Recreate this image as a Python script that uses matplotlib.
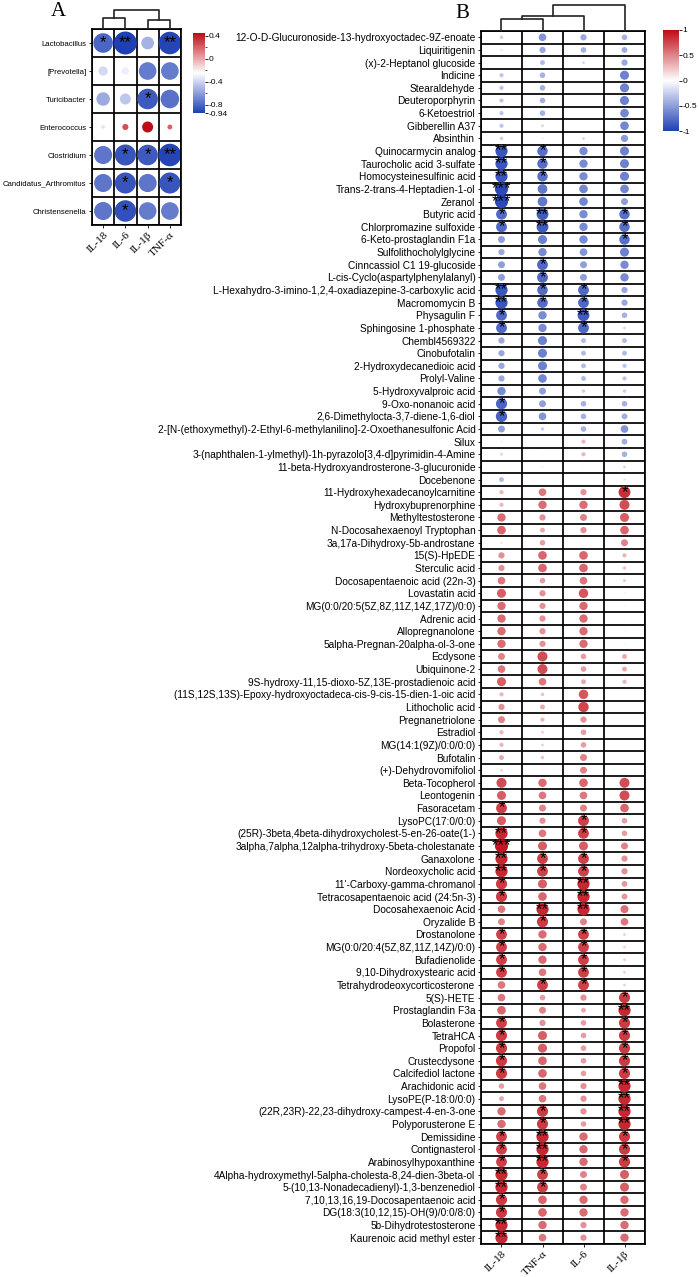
import matplotlib
matplotlib.use("Agg")
import matplotlib.pyplot as plt
import numpy as np
from matplotlib.colors import LinearSegmentedColormap, Normalize
from matplotlib.cm import ScalarMappable

W, H, DPI = 699, 1277, 100

# ---- panel A: gut genera vs cytokines ----
genera = ["Lactobacillus", "[Prevotella]", "Turicibacter", "Enterococcus",
          "Clostridium", "Candidatus_Arthromitus", "Christensenella"]
cyto_a = ["IL-18", "IL-6", "IL-1β", "TNF-α"]
r_a = [
    [-0.80, -0.94, -0.52, -0.92],
    [-0.38, -0.30, -0.72, -0.72],
    [-0.55, -0.45, -0.84, -0.76],
    [-0.15, 0.25, 0.45, 0.20],
    [-0.74, -0.86, -0.84, -0.92],
    [-0.74, -0.86, -0.74, -0.86],
    [-0.74, -0.88, -0.72, -0.72],
]
sig_a = [
    ["*", "**", "", "**"],
    ["", "", "", ""],
    ["", "", "*", ""],
    ["", "", "", ""],
    ["", "*", "*", "**"],
    ["", "*", "", "*"],
    ["", "*", "", ""],
]
# merges (left, right, height) for the column dendrogram
tree_a = [(0, 1, 0.57), (2, 3, 0.45), (4, 5, 1.0)]

# ---- panel B: metabolites vs cytokines ----
cyto_b = ["IL-18", "TNF-α", "IL-6", "IL-1β"]
metabolites = [
    "12-O-D-Glucuronoside-13-hydroxyoctadec-9Z-enoate", "Liquiritigenin",
    "(x)-2-Heptanol glucoside", "Indicine", "Stearaldehyde", "Deuteroporphyrin",
    "6-Ketoestriol", "Gibberellin A37", "Absinthin", "Quinocarmycin analog",
    "Taurocholic acid 3-sulfate", "Homocysteinesulfinic acid",
    "Trans-2-trans-4-Heptadien-1-ol", "Zeranol", "Butyric acid",
    "Chlorpromazine sulfoxide", "6-Keto-prostaglandin F1a", "Sulfolithocholylglycine",
    "Cinncassiol C1 19-glucoside", "L-cis-Cyclo(aspartylphenylalanyl)",
    "L-Hexahydro-3-imino-1,2,4-oxadiazepine-3-carboxylic acid", "Macromomycin B",
    "Physagulin F", "Sphingosine 1-phosphate", "Chembl4569322", "Cinobufotalin",
    "2-Hydroxydecanedioic acid", "Prolyl-Valine", "5-Hydroxyvalproic acid",
    "9-Oxo-nonanoic acid", "2,6-Dimethylocta-3,7-diene-1,6-diol",
    "2-[N-(ethoxymethyl)-2-Ethyl-6-methylanilino]-2-Oxoethanesulfonic Acid", "Silux",
    "3-(naphthalen-1-ylmethyl)-1h-pyrazolo[3,4-d]pyrimidin-4-Amine",
    "11-beta-Hydroxyandrosterone-3-glucuronide", "Docebenone",
    "11-Hydroxyhexadecanoylcarnitine", "Hydroxybuprenorphine", "Methyltestosterone",
    "N-Docosahexaenoyl Tryptophan", "3a,17a-Dihydroxy-5b-androstane", "15(S)-HpEDE",
    "Sterculic acid", "Docosapentaenoic acid (22n-3)", "Lovastatin acid",
    "MG(0:0/20:5(5Z,8Z,11Z,14Z,17Z)/0:0)", "Adrenic acid", "Allopregnanolone",
    "5alpha-Pregnan-20alpha-ol-3-one", "Ecdysone", "Ubiquinone-2",
    "9S-hydroxy-11,15-dioxo-5Z,13E-prostadienoic acid",
    "(11S,12S,13S)-Epoxy-hydroxyoctadeca-cis-9-cis-15-dien-1-oic acid",
    "Lithocholic acid", "Pregnanetriolone", "Estradiol", "MG(14:1(9Z)/0:0/0:0)",
    "Bufotalin", "(+)-Dehydrovomifoliol", "Beta-Tocopherol", "Leontogenin",
    "Fasoracetam", "LysoPC(17:0/0:0)",
    "(25R)-3beta,4beta-dihydroxycholest-5-en-26-oate(1-)",
    "3alpha,7alpha,12alpha-trihydroxy-5beta-cholestanate", "Ganaxolone",
    "Nordeoxycholic acid", "11'-Carboxy-gamma-chromanol",
    "Tetracosapentaenoic acid (24:5n-3)", "Docosahexaenoic Acid", "Oryzalide B",
    "Drostanolone", "MG(0:0/20:4(5Z,8Z,11Z,14Z)/0:0)", "Bufadienolide",
    "9,10-Dihydroxystearic acid", "Tetrahydrodeoxycorticosterone", "5(S)-HETE",
    "Prostaglandin F3a", "Bolasterone", "TetraHCA", "Propofol", "Crustecdysone",
    "Calcifediol lactone", "Arachidonic acid", "LysoPE(P-18:0/0:0)",
    "(22R,23R)-22,23-dihydroxy-campest-4-en-3-one", "Polyporusterone E",
    "Demissidine", "Contignasterol", "Arabinosylhypoxanthine",
    "4Alpha-hydroxymethyl-5alpha-cholesta-8,24-dien-3beta-ol",
    "5-(10,13-Nonadecadienyl)-1,3-benzenediol", "7,10,13,16,19-Docosapentaenoic acid",
    "DG(18:3(10,12,15)-OH(9)/0:0/8:0)", "5b-Dihydrotestosterone",
    "Kaurenoic acid methyl ester",
]
r_b = [
    [-0.25, -0.55, -0.45, -0.40], [-0.15, -0.45, -0.40, -0.42],
    [0.05, -0.35, -0.20, -0.45], [-0.30, -0.40, -0.03, -0.65],
    [-0.30, -0.40, -0.02, -0.65], [-0.30, -0.40, -0.02, -0.65],
    [-0.30, -0.40, -0.02, -0.62], [-0.30, -0.20, -0.02, -0.62],
    [-0.25, -0.12, -0.20, -0.52], [-0.88, -0.75, -0.60, -0.65],
    [-0.88, -0.75, -0.60, -0.65], [-0.88, -0.75, -0.60, -0.65],
    [-0.95, -0.70, -0.62, -0.62], [-0.95, -0.70, -0.62, -0.50],
    [-0.78, -0.85, -0.60, -0.75], [-0.78, -0.85, -0.60, -0.75],
    [-0.50, -0.65, -0.60, -0.75], [-0.45, -0.60, -0.55, -0.65],
    [-0.50, -0.78, -0.50, -0.60], [-0.50, -0.78, -0.50, -0.60],
    [-0.88, -0.76, -0.78, -0.45], [-0.88, -0.76, -0.78, -0.45],
    [-0.78, -0.60, -0.85, -0.40], [-0.78, -0.60, -0.78, -0.20],
    [-0.45, -0.65, -0.35, -0.35], [-0.45, -0.65, -0.35, -0.35],
    [-0.45, -0.65, -0.35, -0.30], [-0.45, -0.62, -0.35, -0.30],
    [-0.60, -0.50, -0.25, -0.25], [-0.80, -0.50, -0.40, -0.40],
    [-0.82, -0.55, -0.40, -0.42], [-0.50, -0.25, -0.40, -0.55],
    [-0.12, -0.02, 0.30, -0.42], [0.20, 0.08, 0.30, -0.40],
    [0.05, 0.10, -0.08, -0.20], [-0.35, 0.00, 0.00, -0.15],
    [0.30, 0.55, 0.45, 0.85], [0.30, 0.60, 0.60, 0.72],
    [0.60, 0.45, 0.50, 0.65], [0.62, 0.35, 0.45, 0.62],
    [0.15, 0.40, 0.02, 0.50], [0.45, 0.62, 0.62, 0.30],
    [0.45, 0.62, 0.62, 0.25], [0.55, 0.40, 0.55, 0.22],
    [0.65, 0.45, 0.68, 0.10], [0.60, 0.45, 0.60, 0.08],
    [0.60, 0.45, 0.60, 0.08], [0.60, 0.45, 0.60, 0.08],
    [0.60, 0.45, 0.60, 0.08], [0.50, 0.72, 0.40, 0.35],
    [0.55, 0.72, 0.40, 0.35], [0.65, 0.55, 0.35, 0.30],
    [0.30, 0.25, 0.68, 0.05], [0.45, 0.35, 0.75, 0.00],
    [0.50, 0.30, 0.45, 0.05], [0.30, 0.20, 0.40, 0.00],
    [0.30, 0.20, 0.40, 0.00], [0.35, 0.25, 0.50, 0.03],
    [0.20, 0.08, 0.50, 0.03], [0.72, 0.60, 0.62, 0.72],
    [0.65, 0.55, 0.55, 0.72], [0.78, 0.50, 0.50, 0.62],
    [0.65, 0.45, 0.78, 0.40], [0.88, 0.55, 0.78, 0.40],
    [0.95, 0.65, 0.65, 0.50], [0.88, 0.78, 0.78, 0.45],
    [0.88, 0.78, 0.78, 0.45], [0.80, 0.65, 0.88, 0.42],
    [0.80, 0.62, 0.88, 0.42], [0.55, 0.88, 0.88, 0.58],
    [0.50, 0.80, 0.50, 0.55], [0.78, 0.60, 0.78, 0.20],
    [0.78, 0.60, 0.78, 0.20], [0.78, 0.60, 0.78, 0.20],
    [0.78, 0.55, 0.78, 0.20], [0.55, 0.78, 0.78, 0.20],
    [0.55, 0.40, 0.45, 0.80], [0.62, 0.50, 0.35, 0.88],
    [0.78, 0.45, 0.40, 0.80], [0.80, 0.65, 0.40, 0.80],
    [0.80, 0.65, 0.40, 0.80], [0.80, 0.62, 0.40, 0.80],
    [0.80, 0.62, 0.40, 0.80], [0.40, 0.55, 0.45, 0.88],
    [0.35, 0.55, 0.45, 0.88], [0.60, 0.80, 0.45, 0.88],
    [0.60, 0.80, 0.40, 0.88], [0.78, 0.88, 0.60, 0.80],
    [0.78, 0.88, 0.60, 0.80], [0.78, 0.88, 0.60, 0.80],
    [0.88, 0.78, 0.50, 0.65], [0.88, 0.78, 0.50, 0.65],
    [0.80, 0.62, 0.60, 0.60], [0.80, 0.62, 0.60, 0.60],
    [0.88, 0.60, 0.45, 0.60], [0.88, 0.55, 0.45, 0.60],
]
sig_b = [
    ["", "", "", ""], ["", "", "", ""], ["", "", "", ""], ["", "", "", ""],
    ["", "", "", ""], ["", "", "", ""], ["", "", "", ""], ["", "", "", ""],
    ["", "", "", ""], ["**", "*", "", ""], ["**", "*", "", ""], ["**", "*", "", ""],
    ["***", "", "", ""], ["***", "", "", ""], ["*", "**", "", "*"], ["*", "**", "", "*"],
    ["", "", "", "*"], ["", "", "", ""], ["", "*", "", ""], ["", "*", "", ""],
    ["**", "*", "*", ""], ["**", "*", "*", ""], ["*", "", "**", ""], ["*", "", "*", ""],
    ["", "", "", ""], ["", "", "", ""], ["", "", "", ""], ["", "", "", ""],
    ["", "", "", ""], ["*", "", "", ""], ["*", "", "", ""], ["", "", "", ""],
    ["", "", "", ""], ["", "", "", ""], ["", "", "", ""], ["", "", "", ""],
    ["", "", "", "*"], ["", "", "", ""], ["", "", "", ""], ["", "", "", ""],
    ["", "", "", ""], ["", "", "", ""], ["", "", "", ""], ["", "", "", ""],
    ["", "", "", ""], ["", "", "", ""], ["", "", "", ""], ["", "", "", ""],
    ["", "", "", ""], ["", "", "", ""], ["", "", "", ""], ["", "", "", ""],
    ["", "", "", ""], ["", "", "", ""], ["", "", "", ""], ["", "", "", ""],
    ["", "", "", ""], ["", "", "", ""], ["", "", "", ""], ["", "", "", ""],
    ["", "", "", ""], ["*", "", "", ""], ["", "", "*", ""], ["**", "", "*", ""],
    ["***", "", "", ""], ["**", "*", "*", ""], ["**", "*", "*", ""], ["*", "", "**", ""],
    ["*", "", "**", ""], ["", "**", "**", ""], ["", "*", "", ""], ["*", "", "*", ""],
    ["*", "", "*", ""], ["*", "", "*", ""], ["*", "", "*", ""], ["", "*", "*", ""],
    ["", "", "", "*"], ["", "", "", "**"], ["*", "", "", "*"], ["*", "", "", "*"],
    ["*", "", "", "*"], ["*", "", "", "*"], ["*", "", "", "*"], ["", "", "", "**"],
    ["", "", "", "**"], ["", "*", "", "**"], ["", "*", "", "**"], ["*", "**", "", "*"],
    ["*", "**", "", "*"], ["*", "**", "", "*"], ["**", "*", "", ""], ["**", "*", "", ""],
    ["*", "", "", ""], ["*", "", "", ""], ["**", "", "", ""], ["**", "", "", ""],
]
tree_b = [(0, 1, 0.46), (4, 2, 0.56), (5, 3, 1.0)]

cmap = LinearSegmentedColormap.from_list("bwr2", ["#1F3FB5", "#FFFFFF", "#C00A14"])
SANS = "Liberation Sans"
SERIF = "Liberation Serif"


def box(l, t, r, b):
    # pixel box -> figure fraction
    return [l / W, 1 - b / H, (r - l) / W, (b - t) / H]


def corr_panel(ax, r, sig, rows, cols, norm, lab_fs, star_fs, xlab_fs):
    r = np.array(r)
    nr, nc = r.shape
    ax.set_xlim(-0.5, nc - 0.5)
    ax.set_ylim(nr - 0.5, -0.5)
    bb = ax.get_position()
    cell = min(bb.width * W / nc, bb.height * H / nr)
    xx, yy = np.meshgrid(np.arange(nc), np.arange(nr))
    d = np.abs(r) * 1.1 * cell * 72 / DPI
    ax.scatter(xx.ravel(), yy.ravel(), s=d.ravel() ** 2, c=r.ravel(),
               cmap=cmap, norm=norm, linewidths=0, zorder=2)
    for i in range(nr):
        for j in range(nc):
            if sig[i][j]:
                ax.text(j, i, sig[i][j], ha="center", va="center",
                        fontsize=star_fs, family=SANS, zorder=3)
    for i in range(nr + 1):
        ax.axhline(i - 0.5, color="black", lw=1.25, zorder=1)
    for j in range(nc + 1):
        ax.axvline(j - 0.5, color="black", lw=1.25, zorder=1)
    ax.set_yticks(range(nr))
    ax.set_yticklabels(rows, fontsize=lab_fs, family=SANS)
    ax.set_xticks(range(nc))
    ax.set_xticklabels(cols, fontsize=xlab_fs, family=SERIF, rotation=45,
                       ha="right", va="top", rotation_mode="anchor")
    ax.tick_params(length=2.5, width=0.6, pad=1.5)
    for s in ax.spines.values():
        s.set_linewidth(1.25)


def dendro(ax, merges, n):
    pos = {i: float(i) for i in range(n)}
    hgt = {i: 0.0 for i in range(n)}
    for k, (a, b, h) in enumerate(merges):
        ax.plot([pos[a], pos[a], pos[b], pos[b]], [hgt[a], h, h, hgt[b]],
                color="#222222", lw=1.2, clip_on=False)
        pos[n + k] = (pos[a] + pos[b]) / 2
        hgt[n + k] = h
    ax.set_xlim(-0.5, n - 0.5)
    ax.set_ylim(0, 1)
    ax.axis("off")


def cbar(fig, rect, norm, ticks, labels, minor=None):
    cax = fig.add_axes(rect)
    cb = fig.colorbar(ScalarMappable(norm=norm, cmap=cmap), cax=cax)
    cb.outline.set_visible(False)
    cb.set_ticks(ticks)
    cb.set_ticklabels(labels)
    if minor:
        cb.ax.set_yticks(minor, minor=True)
        cb.ax.tick_params(which="minor", length=1.5, width=0.5)
    cb.ax.tick_params(which="major", length=2, width=0.6, pad=0.5, labelsize=6)
    for t in cb.ax.get_yticklabels():
        t.set_family(SANS)


fig = plt.figure(figsize=(W / DPI, H / DPI), dpi=DPI)

# panel A
axA = fig.add_axes(box(92, 29, 181, 225))
corr_panel(axA, r_a, sig_a, genera, cyto_a, Normalize(-0.94, 0.45), 5.6, 12, 8)
dendro(fig.add_axes(box(92, 10, 181, 29)), tree_a, 4)
cbar(fig, box(193, 33, 205, 113), Normalize(-0.94, 0.45),
     [0.4, 0, -0.4, -0.8, -0.94], ["0.4", "0", "-0.4", "-0.8", "-0.94"],
     minor=[0.2, -0.2, -0.6])
fig.text(58 / W, 1 - 12 / H, "A", fontsize=15, family=SERIF, ha="center", va="center")

# panel B
axB = fig.add_axes(box(481, 31, 645, 1244))
corr_panel(axB, r_b, sig_b, metabolites, cyto_b, Normalize(-1, 1), 7.3, 12, 8)
dendro(fig.add_axes(box(481, 5, 645, 31)), tree_b, 4)
cbar(fig, box(663, 30, 679, 131), Normalize(-1, 1),
     [1, 0.5, 0, -0.5, -1], ["1", "0.5", "0", "-0.5", "-1"])
fig.text(462 / W, 1 - 13 / H, "B", fontsize=15, family=SERIF, ha="center", va="center")

fig.savefig("out.png", dpi=DPI)
